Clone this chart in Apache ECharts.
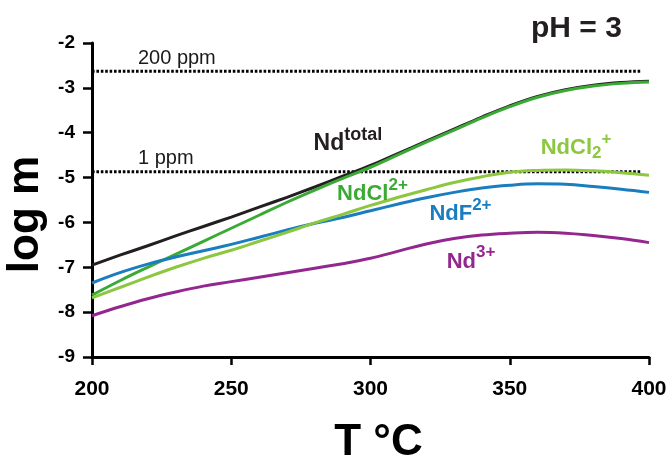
<!DOCTYPE html>
<html>
<head>
<meta charset="utf-8">
<script src="https://cdn.jsdelivr.net/npm/echarts@6/dist/echarts.min.js"></script>
<style>
html,body{margin:0;padding:0;background:#fff;}
#chart{width:668px;height:461px;}
</style>
</head>
<body>
<div id="chart"></div>
<script>
// ---- data ----
const temps = [200,210,220,230,240,250,260,270,280,290,300,310,320,330,340,350,360,370,380,390,400];
const ndTotal = [-6.95,-6.73,-6.52,-6.30,-6.09,-5.88,-5.66,-5.44,-5.21,-4.97,-4.73,-4.46,-4.19,-3.92,-3.65,-3.40,-3.19,-3.04,-2.94,-2.88,-2.85];
const ndCl = [-7.62,-7.30,-7.00,-6.71,-6.42,-6.13,-5.84,-5.55,-5.28,-5.02,-4.77,-4.49,-4.21,-3.94,-3.67,-3.42,-3.21,-3.06,-2.96,-2.90,-2.87];
const ndF = [-7.35,-7.12,-6.93,-6.77,-6.63,-6.49,-6.33,-6.17,-6.02,-5.89,-5.74,-5.59,-5.45,-5.33,-5.23,-5.17,-5.14,-5.15,-5.20,-5.26,-5.33];
const ndCl2 = [-7.68,-7.45,-7.22,-7.00,-6.80,-6.62,-6.42,-6.22,-6.01,-5.82,-5.62,-5.44,-5.27,-5.11,-4.98,-4.88,-4.84,-4.83,-4.85,-4.89,-4.95];
const nd3 = [-8.08,-7.88,-7.70,-7.55,-7.42,-7.32,-7.22,-7.12,-7.02,-6.92,-6.80,-6.64,-6.48,-6.36,-6.28,-6.24,-6.22,-6.24,-6.29,-6.36,-6.45];
const ppmLevels = [-2.63, -4.87];
const ppmNames = ['200 ppm', '1 ppm'];
const ppmRange = [200, 397];
const xTicks = [200, 250, 300, 350, 400];
const yTicks = [-9, -8, -7, -6, -5, -4, -3, -2];

const FONT = '"Liberation Sans", Arial, Helvetica, sans-serif';
const C = {black:'#231f20', dkgreen:'#3aaa35', ltgreen:'#8dc63f', blue:'#1a7dc0', purple:'#93278f'};

function pairs(ys){ return temps.map((t,i)=>[t, ys[i]]); }

function rich(color, bs, ps){
  return {
    b:{fontSize:bs, fontWeight:'bold', color:color, fontFamily:FONT, verticalAlign:'middle', lineHeight:bs},
    p:{fontSize:ps, fontWeight:'bold', color:color, fontFamily:FONT, verticalAlign:'middle', lineHeight:ps, padding:[0,0,18,0]},
    s:{fontSize:ps, fontWeight:'bold', color:color, fontFamily:FONT, verticalAlign:'middle', lineHeight:ps, padding:[10,0,0,0]}
  };
}
function label(coord, fmt, color, bs, ps){
  return {
    symbol:'circle', symbolSize:0,
    data:[{coord:coord, value:0}],
    label:{show:true, position:'inside', align:'center', verticalAlign:'middle', formatter:fmt, rich:rich(color, bs||22, ps||17)},
    itemStyle:{color:'transparent'}
  };
}

function curve(name, ys, color, mp){
  return {
    name:name, type:'line', data:pairs(ys), smooth:0.4, symbol:'none',
    lineStyle:{color:color, width:3}, silent:true, markPoint:mp
  };
}

const series = [];
ppmLevels.forEach((lv,i)=>{
  series.push({
    type:'line', symbol:'none', silent:true,
    data:[[ppmRange[0], lv],[ppmRange[1], lv]],
    lineStyle:{color:'#000', width:3, type:[2.6,1.8]},
    markPoint:{
      symbol:'circle', symbolSize:0, itemStyle:{color:'transparent'},
      data:[{coord:[216.5, lv], value:0}],
      label:{show:true, position:'inside', align:'left', verticalAlign:'bottom', offset:[0,-3],
        formatter:ppmNames[i], fontSize:20, color:'#1a1a1a', fontFamily:FONT}
    }
  });
});
series.push(curve('Nd total', ndTotal, C.black, label([291.9,-4.25], '{b|Nd}{p|total}', C.black, 23, 18)));
series.push(curve('NdCl2+', ndCl, C.dkgreen, label([300.7,-5.37], '{b|NdCl}{p|2+}', C.dkgreen)));
series.push(curve('NdF2+', ndF, C.blue, label([332.3,-5.81], '{b|NdF}{p|2+}', C.blue)));
series.push(curve('NdCl2 +', ndCl2, C.ltgreen, label([373.8,-4.34], '{b|NdCl}{s|2}{p|+}', C.ltgreen)));
series.push(curve('Nd3+', nd3, C.purple, label([336.1,-6.87], '{b|Nd}{p|3+}', C.purple)));

const chart = echarts.init(document.getElementById('chart'), null, {renderer:'canvas'});
chart.setOption({
  animation:false,
  backgroundColor:'#fff',
  title:{text:'pH = 3', left:526, top:9, textStyle:{fontSize:30, fontWeight:'bold', color:'#231f20', fontFamily:FONT}},
  grid:{left:92, right:19, top:43, bottom:104, containLabel:false, outerBoundsMode:'none'},
  xAxis:{
    type:'value', min:xTicks[0], max:xTicks[xTicks.length-1], interval:50,
    name:'T °C', nameLocation:'middle', nameGap:64,
    nameTextStyle:{fontSize:44, fontWeight:'bold', color:'#000', fontFamily:FONT, padding:[0,0,0,16]},
    axisLine:{show:true, onZero:false, lineStyle:{color:'#000', width:3}},
    axisTick:{show:true, inside:false, length:8, lineStyle:{color:'#000', width:2.5}},
    axisLabel:{margin:22, fontSize:21, fontWeight:'bold', color:'#000', fontFamily:FONT},
    splitLine:{show:false}
  },
  yAxis:{
    type:'value', min:yTicks[0], max:yTicks[yTicks.length-1], interval:1,
    name:'log m', nameLocation:'middle', nameGap:44, nameMoveOverlap:false,
    nameTextStyle:{fontSize:44, fontWeight:'bold', color:'#000', fontFamily:FONT, padding:[0,29,0,0]},
    axisLine:{show:true, onZero:false, lineStyle:{color:'#000', width:3}},
    axisTick:{show:true, inside:false, length:9, lineStyle:{color:'#000', width:2.5}},
    axisLabel:{margin:17, fontSize:19, fontWeight:'bold', color:'#000', fontFamily:FONT},
    splitLine:{show:false}
  },
  series:series
});
</script>
</body>
</html>
